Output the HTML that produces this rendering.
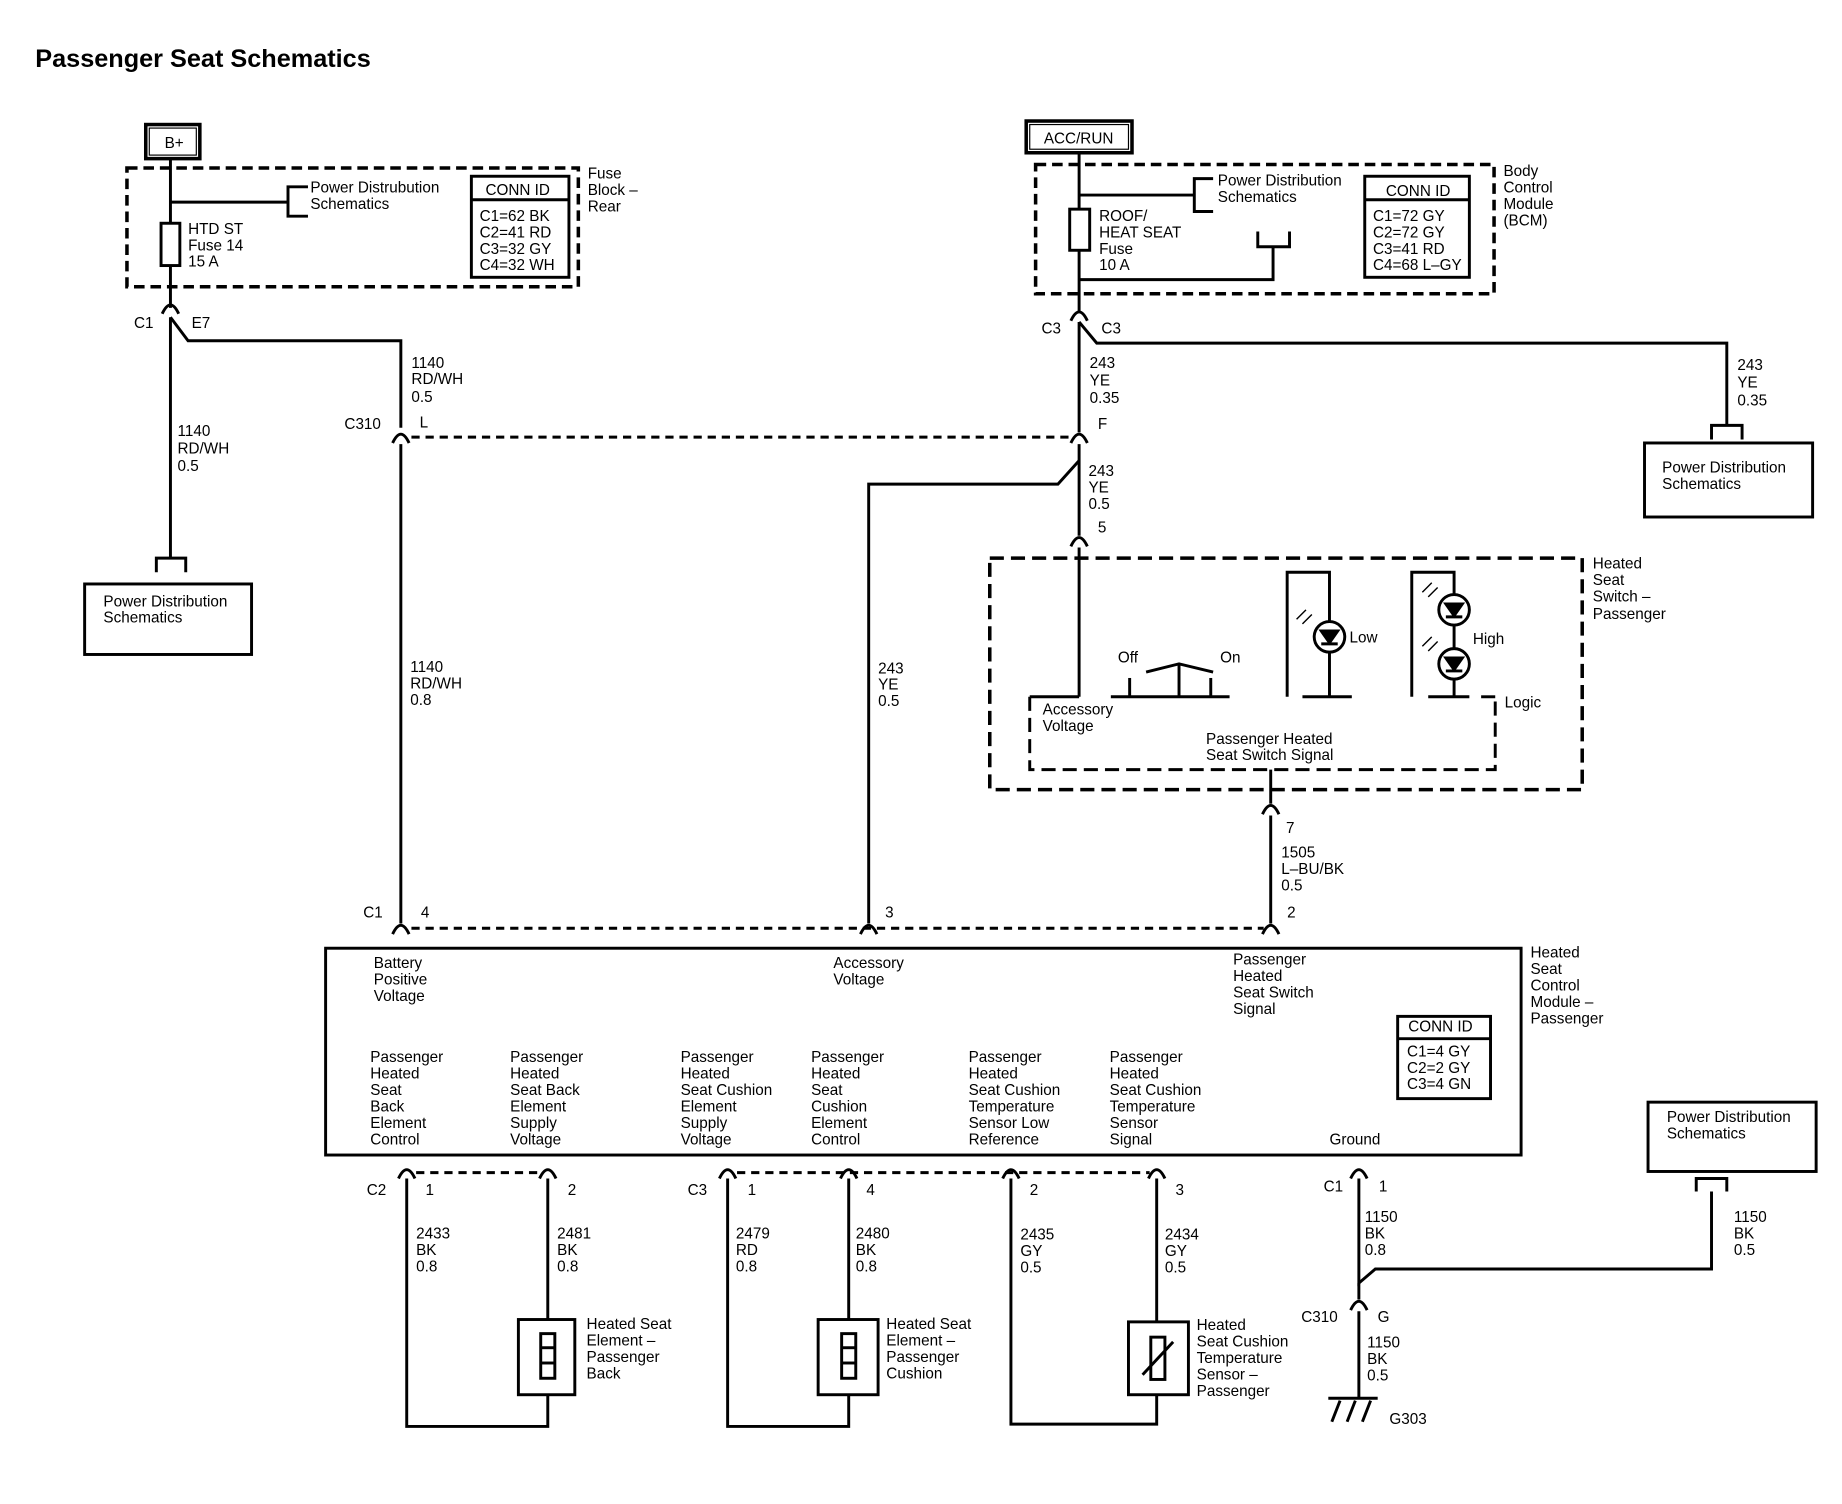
<!DOCTYPE html>
<html><head><meta charset="utf-8"><style>
html,body{margin:0;padding:0;background:#fff;}
svg{display:block;}
text{font-family:"Liberation Sans",sans-serif;font-size:13px;fill:#000;}
.t{font-weight:bold;font-size:21.5px;}
</style></head><body>
<svg width="1842" height="1504" viewBox="0 0 1567 1280" preserveAspectRatio="none" xmlns="http://www.w3.org/2000/svg">
<defs>
<g id="cn"><path d="M-7,5 Q0,-10 7,5" fill="none" stroke="#000" stroke-width="2.5"/></g>
</defs>
<rect width="1567" height="1280" fill="#fff"/>
<text x="30" y="57" class="t">Passenger Seat Schematics</text>
<g fill="none" stroke="#000" stroke-width="2.5">
<rect x="124" y="106" width="46" height="29" stroke-width="3"/>
<rect x="127" y="109" width="40" height="23" stroke-width="1"/>
<rect x="108" y="143" width="384" height="101" stroke-dasharray="9,5" stroke-width="3"/>
<line x1="145" y1="135" x2="145" y2="262"/>
<rect x="137" y="190" width="16" height="36" fill="#fff"/>
<line x1="145" y1="172" x2="245" y2="172"/>
<path d="M262,159 H245 V184 H262"/>
<rect x="401" y="150" width="83" height="86"/>
<line x1="401" y1="170" x2="484" y2="170"/>
<path d="M145,270 L160,290 H341 V364"/>
<line x1="145" y1="270" x2="145" y2="475"/>
<path d="M133,487 V475 H158 V487"/>
<rect x="72" y="497" width="142" height="60"/>
<line x1="341" y1="378" x2="341" y2="786"/>
<line x1="350" y1="372" x2="912" y2="372" stroke-dasharray="7,5"/>
<line x1="350" y1="790" x2="1075" y2="790" stroke-dasharray="7,5"/>
<rect x="277" y="807" width="1017" height="176"/>
<rect x="873" y="103" width="90" height="27" stroke-width="3"/>
<rect x="876" y="106" width="84" height="21" stroke-width="1"/>
<rect x="881" y="140" width="390" height="110" stroke-dasharray="9,5" stroke-width="3"/>
<line x1="918" y1="130" x2="918" y2="266"/>
<rect x="910" y="178" width="17" height="35" fill="#fff"/>
<line x1="918" y1="166" x2="1016" y2="166"/>
<path d="M1032,152 H1016 V180 H1032"/>
<path d="M918,238 H1083 V210"/>
<path d="M1070,197 V210 H1097 V197"/>
<rect x="1161" y="150" width="89" height="86"/>
<line x1="1161" y1="170" x2="1250" y2="170"/>
<path d="M918,274 L933,292 H1469 V362"/>
<path d="M1456,374 V362 H1482 V374"/>
<rect x="1399" y="377" width="143" height="63"/>
<line x1="918" y1="274" x2="918" y2="368"/>
<line x1="918" y1="378" x2="918" y2="456"/>
<path d="M918,392 L900,412 H739 V786"/>
<rect x="842" y="475" width="504" height="197" stroke-dasharray="12,6" stroke-width="3"/>
<line x1="918" y1="466" x2="918" y2="593"/>
<path d="M876,593 V655 H1272 V593" stroke-dasharray="12,6"/>
<line x1="876" y1="593" x2="918" y2="593"/>
<line x1="1260" y1="593" x2="1272" y2="593"/>
<line x1="961" y1="593" x2="961" y2="577"/>
<line x1="1003" y1="593" x2="1003" y2="566"/>
<line x1="1030" y1="593" x2="1030" y2="577"/>
<path d="M975,572 L1003,565 L1032,572"/>
<line x1="945" y1="593" x2="1046" y2="593"/>
<path d="M1095,593 V487 H1131 V593"/>
<circle cx="1131" cy="542" r="13" fill="#fff"/>
<path d="M1124,537 H1138 L1131,547 Z" fill="#000"/>
<line x1="1124" y1="548" x2="1138" y2="548"/>
<line x1="1108" y1="593" x2="1150" y2="593"/>
<path d="M1201,593 V487 H1237 V593"/>
<circle cx="1237" cy="519" r="13" fill="#fff"/>
<path d="M1230,514 H1244 L1237,524 Z" fill="#000"/>
<line x1="1230" y1="525" x2="1244" y2="525"/>
<circle cx="1237" cy="565" r="13" fill="#fff"/>
<path d="M1230,560 H1244 L1237,570 Z" fill="#000"/>
<line x1="1230" y1="571" x2="1244" y2="571"/>
<line x1="1215" y1="593" x2="1250" y2="593"/>
<line x1="1081" y1="655" x2="1081" y2="684"/>
<line x1="1081" y1="694" x2="1081" y2="786"/>
<rect x="1189" y="865" width="79" height="70"/>
<line x1="1189" y1="884" x2="1268" y2="884"/>
<line x1="354" y1="998" x2="460" y2="998" stroke-dasharray="7,5"/>
<line x1="627" y1="998" x2="978" y2="998" stroke-dasharray="7,5"/>
<path d="M346,1003 V1214 H466 V1003"/>
<path d="M619,1003 V1214 H722 V1003"/>
<path d="M860,1003 V1212 H984 V1003"/>
<rect x="441" y="1123" width="48" height="64" fill="#fff"/>
<rect x="460" y="1135" width="12" height="38"/>
<line x1="460" y1="1147" x2="472" y2="1147"/><line x1="460" y1="1160" x2="472" y2="1160"/>
<rect x="696" y="1123" width="51" height="64" fill="#fff"/>
<rect x="716" y="1135" width="12" height="38"/>
<line x1="716" y1="1147" x2="728" y2="1147"/><line x1="716" y1="1160" x2="728" y2="1160"/>
<rect x="960" y="1125" width="51" height="62" fill="#fff"/>
<rect x="979" y="1138" width="12" height="36"/>
<line x1="972" y1="1170" x2="998" y2="1142"/>
<path d="M1156,1003 V1092 L1170,1080 H1456 V1014"/>
<path d="M1443,1014 V1003 H1469 V1014"/>
<rect x="1402" y="938" width="143" height="59"/>
<line x1="1156" y1="1092" x2="1156" y2="1106"/>
<line x1="1156" y1="1116" x2="1156" y2="1190"/>
<line x1="1130" y1="1190" x2="1172" y2="1190"/>
<path d="M1133,1210 L1140,1192 M1146,1210 L1153,1192 M1159,1210 L1166,1192"/>
</g>
<g>
<use href="#cn" x="145" y="262"/><use href="#cn" x="341" y="372"/><use href="#cn" x="341" y="790"/>
<use href="#cn" x="918" y="268"/><use href="#cn" x="918" y="372"/><use href="#cn" x="918" y="460"/>
<use href="#cn" x="739" y="790"/><use href="#cn" x="1081" y="688"/><use href="#cn" x="1081" y="790"/>
<use href="#cn" x="346" y="998"/><use href="#cn" x="466" y="998"/><use href="#cn" x="619" y="998"/>
<use href="#cn" x="722" y="998"/><use href="#cn" x="860" y="998"/><use href="#cn" x="984" y="998"/>
<use href="#cn" x="1156" y="998"/><use href="#cn" x="1156" y="1110"/>
</g>
<g stroke="#000" stroke-width="1.2"><path d="M1103,527 l8,-8 M1108,531 l8,-8 M1210,504 l8,-8 M1215,508 l8,-8 M1210,550 l8,-8 M1215,554 l8,-8"/></g>
<text x="140" y="126">B+</text>
<text x="264" y="164">Power Distrubution</text><text x="264" y="178">Schematics</text>
<text x="413" y="166">CONN ID</text>
<text x="408" y="188">C1=62 BK</text><text x="408" y="202">C2=41 RD</text><text x="408" y="216">C3=32 GY</text><text x="408" y="230">C4=32 WH</text>
<text x="500" y="152">Fuse</text><text x="500" y="166">Block –</text><text x="500" y="180">Rear</text>
<text x="160" y="199">HTD ST</text><text x="160" y="213">Fuse 14</text><text x="160" y="227">15 A</text>
<text x="114" y="279">C1</text><text x="163" y="279">E7</text>
<text x="350" y="313">1140</text><text x="350" y="327">RD/WH</text><text x="350" y="342">0.5</text>
<text x="151" y="371">1140</text><text x="151" y="386">RD/WH</text><text x="151" y="401">0.5</text>
<text x="88" y="516">Power Distribution</text><text x="88" y="530">Schematics</text>
<text x="293" y="365">C310</text><text x="357" y="364">L</text>
<text x="349" y="572">1140</text><text x="349" y="586">RD/WH</text><text x="349" y="600">0.8</text>
<text x="309" y="781">C1</text><text x="358" y="781">4</text><text x="753" y="781">3</text><text x="1095" y="781">2</text>
<text x="888" y="122">ACC/RUN</text>
<text x="1036" y="158">Power Distribution</text><text x="1036" y="172">Schematics</text>
<text x="1179" y="167">CONN ID</text>
<text x="1168" y="188">C1=72 GY</text><text x="1168" y="202">C2=72 GY</text><text x="1168" y="216">C3=41 RD</text><text x="1168" y="230">C4=68 L–GY</text>
<text x="1279" y="150">Body</text><text x="1279" y="164">Control</text><text x="1279" y="178">Module</text><text x="1279" y="192">(BCM)</text>
<text x="935" y="188">ROOF/</text><text x="935" y="202">HEAT SEAT</text><text x="935" y="216">Fuse</text><text x="935" y="230">10 A</text>
<text x="886" y="284">C3</text><text x="937" y="284">C3</text>
<text x="927" y="313">243</text><text x="927" y="328">YE</text><text x="927" y="343">0.35</text>
<text x="1478" y="315">243</text><text x="1478" y="330">YE</text><text x="1478" y="345">0.35</text>
<text x="1414" y="402">Power Distribution</text><text x="1414" y="416">Schematics</text>
<text x="934" y="365">F</text>
<text x="926" y="405">243</text><text x="926" y="419">YE</text><text x="926" y="433">0.5</text>
<text x="934" y="453">5</text>
<text x="747" y="573">243</text><text x="747" y="587">YE</text><text x="747" y="601">0.5</text>
<text x="1355" y="484">Heated</text><text x="1355" y="498">Seat</text><text x="1355" y="512">Switch –</text><text x="1355" y="527">Passenger</text>
<text x="951" y="564">Off</text><text x="1038" y="564">On</text>
<text x="1148" y="547">Low</text><text x="1253" y="548">High</text><text x="1280" y="602">Logic</text>
<text x="887" y="608">Accessory</text><text x="887" y="622">Voltage</text>
<text x="1026" y="633">Passenger Heated</text><text x="1026" y="647">Seat Switch Signal</text>
<text x="1094" y="709">7</text>
<text x="1090" y="730">1505</text><text x="1090" y="744">L–BU/BK</text><text x="1090" y="758">0.5</text>
<text x="318" y="824">Battery</text><text x="318" y="838">Positive</text><text x="318" y="852">Voltage</text>
<text x="709" y="824">Accessory</text><text x="709" y="838">Voltage</text>
<text x="1049" y="821">Passenger</text><text x="1049" y="835">Heated</text><text x="1049" y="849">Seat Switch</text><text x="1049" y="863">Signal</text>
<text x="1302" y="815">Heated</text><text x="1302" y="829">Seat</text><text x="1302" y="843">Control</text><text x="1302" y="857">Module –</text><text x="1302" y="871">Passenger</text>
<text x="1198" y="878">CONN ID</text>
<text x="1197" y="899">C1=4 GY</text><text x="1197" y="913">C2=2 GY</text><text x="1197" y="927">C3=4 GN</text>
<text x="315" y="904">Passenger</text><text x="315" y="918">Heated</text><text x="315" y="932">Seat</text><text x="315" y="946">Back</text><text x="315" y="960">Element</text><text x="315" y="974">Control</text>
<text x="434" y="904">Passenger</text><text x="434" y="918">Heated</text><text x="434" y="932">Seat Back</text><text x="434" y="946">Element</text><text x="434" y="960">Supply</text><text x="434" y="974">Voltage</text>
<text x="579" y="904">Passenger</text><text x="579" y="918">Heated</text><text x="579" y="932">Seat Cushion</text><text x="579" y="946">Element</text><text x="579" y="960">Supply</text><text x="579" y="974">Voltage</text>
<text x="690" y="904">Passenger</text><text x="690" y="918">Heated</text><text x="690" y="932">Seat</text><text x="690" y="946">Cushion</text><text x="690" y="960">Element</text><text x="690" y="974">Control</text>
<text x="824" y="904">Passenger</text><text x="824" y="918">Heated</text><text x="824" y="932">Seat Cushion</text><text x="824" y="946">Temperature</text><text x="824" y="960">Sensor Low</text><text x="824" y="974">Reference</text>
<text x="944" y="904">Passenger</text><text x="944" y="918">Heated</text><text x="944" y="932">Seat Cushion</text><text x="944" y="946">Temperature</text><text x="944" y="960">Sensor</text><text x="944" y="974">Signal</text>
<text x="1131" y="974">Ground</text>
<text x="1418" y="955">Power Distribution</text><text x="1418" y="969">Schematics</text>
<text x="312" y="1017">C2</text><text x="362" y="1017">1</text><text x="483" y="1017">2</text>
<text x="585" y="1017">C3</text><text x="636" y="1017">1</text><text x="737" y="1017">4</text>
<text x="876" y="1017">2</text><text x="1000" y="1017">3</text><text x="1126" y="1014">C1</text><text x="1173" y="1014">1</text>
<text x="354" y="1054">2433</text><text x="354" y="1068">BK</text><text x="354" y="1082">0.8</text>
<text x="474" y="1054">2481</text><text x="474" y="1068">BK</text><text x="474" y="1082">0.8</text>
<text x="626" y="1054">2479</text><text x="626" y="1068">RD</text><text x="626" y="1082">0.8</text>
<text x="728" y="1054">2480</text><text x="728" y="1068">BK</text><text x="728" y="1082">0.8</text>
<text x="868" y="1055">2435</text><text x="868" y="1069">GY</text><text x="868" y="1083">0.5</text>
<text x="991" y="1055">2434</text><text x="991" y="1069">GY</text><text x="991" y="1083">0.5</text>
<text x="1161" y="1040">1150</text><text x="1161" y="1054">BK</text><text x="1161" y="1068">0.8</text>
<text x="1475" y="1040">1150</text><text x="1475" y="1054">BK</text><text x="1475" y="1068">0.5</text>
<text x="499" y="1131">Heated Seat</text><text x="499" y="1145">Element –</text><text x="499" y="1159">Passenger</text><text x="499" y="1173">Back</text>
<text x="754" y="1131">Heated Seat</text><text x="754" y="1145">Element –</text><text x="754" y="1159">Passenger</text><text x="754" y="1173">Cushion</text>
<text x="1018" y="1132">Heated</text><text x="1018" y="1146">Seat Cushion</text><text x="1018" y="1160">Temperature</text><text x="1018" y="1174">Sensor –</text><text x="1018" y="1188">Passenger</text>
<text x="1107" y="1125">C310</text><text x="1172" y="1125">G</text>
<text x="1163" y="1147">1150</text><text x="1163" y="1161">BK</text><text x="1163" y="1175">0.5</text>
<text x="1182" y="1212">G303</text>
</svg>
</body></html>
